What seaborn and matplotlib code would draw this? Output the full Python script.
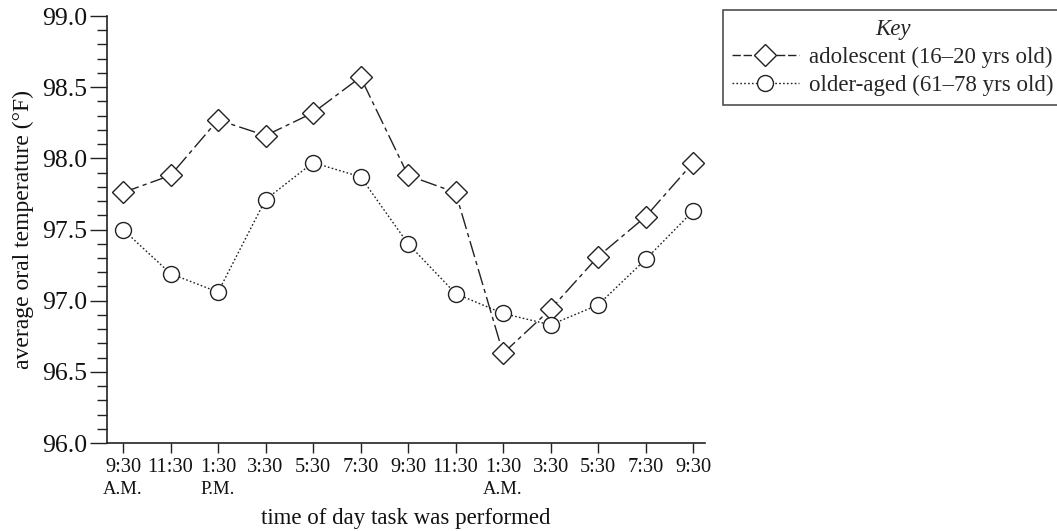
import numpy as np
import pandas as pd
import matplotlib
matplotlib.use("Agg")
import matplotlib.pyplot as plt
import seaborn as sns
from matplotlib.lines import Line2D

# ---- data ----
times = ["9:30", "11:30", "1:30", "3:30", "5:30", "7:30", "9:30",
         "11:30", "1:30", "3:30", "5:30", "7:30", "9:30"]
period_labels = {0: "A.M.", 2: "P.M.", 8: "A.M."}
adolescent = [97.76, 97.88, 98.27, 98.16, 98.32, 98.57, 97.88,
              97.76, 96.63, 96.94, 97.31, 97.59, 97.97]
older = [97.50, 97.19, 97.06, 97.71, 97.97, 97.87, 97.40,
         97.05, 96.91, 96.83, 96.97, 97.29, 97.63]
series_names = ["adolescent (16\u201320 yrs old)", "older-aged (61\u201378 yrs old)"]

sns.set_theme(style="ticks")
plt.rcParams["font.family"] = ["Liberation Serif", "DejaVu Serif"]

W, H = 1057, 531
fig = plt.figure(figsize=(W / 100, H / 100), dpi=100)
ax = fig.add_axes([107 / W, 1 - 443 / H, (705 - 107) / W, (443 - 16) / H])

pos = np.arange(len(times))
ink = "#222222"
txt = "#111111"
dash_a = (0, (12, 3, 3, 3))
dot_b = (0, (1.2, 1.6))

sns.lineplot(x=pos, y=adolescent, ax=ax, color=ink, lw=1.0, linestyle=dash_a,
             marker="D", markersize=11, markerfacecolor="white",
             markeredgecolor=ink, markeredgewidth=1.0, zorder=3)
sns.lineplot(x=pos, y=older, ax=ax, color=ink, lw=1.0, linestyle=dot_b,
             marker="o", markersize=11.5, markerfacecolor="white",
             markeredgecolor=ink, markeredgewidth=1.0, zorder=3)

ax.set_ylim(96.0, 99.0)
ax.set_xlim(-0.337, 12.25)
ax.set_yticks(np.arange(96.0, 99.01, 0.5))
ax.set_yticks(np.arange(96.0, 99.01, 0.1), minor=True)
ax.yaxis.set_major_formatter(matplotlib.ticker.FormatStrFormatter("%.1f"))
ax.set_xticks(pos)
ax.set_xticklabels(times)
ax.tick_params(axis="both", which="major", color=ink, width=1.0,
               labelcolor=txt)
ax.tick_params(axis="x", which="major", length=7, pad=4, labelsize=14.7)
ax.tick_params(axis="y", which="major", length=12, pad=2, labelsize=18.5)
ax.tick_params(axis="y", which="minor", length=7, width=1.0, color=ink)

for s in ["top", "right"]:
    ax.spines[s].set_visible(False)
for s in ["left", "bottom"]:
    ax.spines[s].set_linewidth(1.2)
    ax.spines[s].set_color(ink)

for i, lab in period_labels.items():
    ax.annotate(lab, xy=(pos[i], 0), xycoords=("data", "axes fraction"),
                xytext=(0, -47), textcoords="offset pixels",
                ha="center", va="center", fontsize=13.4, color=txt)

ax.set_xlabel("time of day task was performed", fontsize=16.5, labelpad=22,
              color=txt)
ax.set_ylabel("average oral temperature (\u00b0F)", fontsize=17, labelpad=6,
              color=txt)

handles = [
    Line2D([], [], color=ink, lw=1.0, linestyle=(0, (6, 2)), marker="D",
           markersize=11, markerfacecolor="white", markeredgecolor=ink),
    Line2D([], [], color=ink, lw=1.0, linestyle=dot_b, marker="o",
           markersize=11.5, markerfacecolor="white", markeredgecolor=ink),
]
leg = fig.legend(handles, series_names, loc="upper left",
                 bbox_to_anchor=(723 / W, 1 - 10 / H), fontsize=16.5,
                 title="Key", title_fontproperties={"style": "italic", "size": 16.5},
                 frameon=True, fancybox=False, handlelength=2.9,
                 handletextpad=0.45, borderpad=0.4, labelspacing=0.3,
                 borderaxespad=0)
leg.get_frame().set_edgecolor(ink)
leg.get_frame().set_linewidth(1.2)

fig.savefig("out.png", dpi=100, facecolor="white")
